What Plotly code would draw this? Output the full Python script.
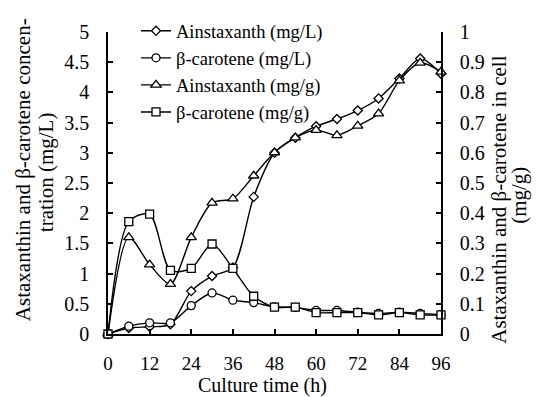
import plotly.graph_objects as go

time_h = [0, 6, 12, 18, 24, 30, 36, 42, 48, 54, 60, 66, 72, 78, 84, 90, 96]
x_ticks = [0, 12, 24, 36, 48, 60, 72, 84, 96]

ast_mgL = [0, 0.10, 0.12, 0.16, 0.71, 0.96, 1.10, 2.27, 3.00, 3.25, 3.44, 3.56, 3.70, 3.90, 4.23, 4.56, 4.31]
bcar_mgL = [0, 0.13, 0.185, 0.185, 0.47, 0.68, 0.56, 0.52, 0.45, 0.44, 0.39, 0.39, 0.36, 0.34, 0.36, 0.34, 0.32]
ast_mgg = [0, 0.32, 0.23, 0.165, 0.32, 0.434, 0.448, 0.524, 0.601, 0.65, 0.675, 0.658, 0.689, 0.73, 0.839, 0.898, 0.868]
bcar_mgg = [0, 0.372, 0.397, 0.211, 0.217, 0.298, 0.217, 0.125, 0.089, 0.089, 0.071, 0.071, 0.071, 0.063, 0.071, 0.063, 0.063]

names = ["Ainstaxanth (mg/L)", "β-carotene (mg/L)", "Ainstaxanth (mg/g)", "β-carotene (mg/g)"]
series = [ast_mgL, bcar_mgL, ast_mgg, bcar_mgg]
symbols = ["diamond", "circle", "triangle-up", "square"]
sizes = [7, 8, 9, 8]
yaxes = ["y", "y", "y2", "y2"]

FONT = "Liberation Serif"
W, H = 547, 397
L, R, T, B = 108, 106, 28, 63
PW, PH = W - L - R, H - T - B


def px_x(px):
    return (px - L) / PW


def px_y(py):
    return (H - B - py) / PH


fig = go.Figure()
for i in range(4):
    fig.add_trace(go.Scatter(
        x=time_h, y=series[i], name=names[i], yaxis=yaxes[i],
        mode="lines+markers", cliponaxis=False,
        line=dict(color="black", width=1.4, shape="spline", smoothing=0.8),
        marker=dict(symbol=symbols[i], size=sizes[i], color="white",
                    line=dict(color="black", width=1.3)),
    ))

axis_common = dict(showgrid=False, zeroline=False, showline=True, linecolor="black",
                   linewidth=1.5, ticks="inside", ticklen=5, tickcolor="black",
                   tickwidth=1.5)
tick_font = dict(family=FONT, size=20, color="black")

fig.update_layout(
    width=W, height=H,
    margin=dict(l=L, r=R, t=T, b=B),
    paper_bgcolor="white", plot_bgcolor="white",
    font=dict(family=FONT, size=19, color="black"),
    xaxis=dict(range=[0, 96], tickvals=x_ticks, ticklabelstandoff=11,
               tickfont=dict(family=FONT, size=19, color="black"), **axis_common),
    yaxis=dict(range=[0, 5], dtick=0.5, ticklabelstandoff=13, tickfont=tick_font, **axis_common),
    yaxis2=dict(range=[0, 1], dtick=0.1, overlaying="y", side="right",
                ticklabelstandoff=13, tickfont=tick_font, **axis_common),
    legend=dict(x=px_x(136), y=px_y(8), xanchor="left", yanchor="top",
                bgcolor="rgba(0,0,0,0)", tracegroupgap=0,
                font=dict(family=FONT, size=18.5)),
    showlegend=True,
)

title_font = dict(family=FONT, size=21, color="black")
fig.add_annotation(text="Culture time (h)", xref="paper", yref="paper",
                   x=px_x(262), y=px_y(386), showarrow=False,
                   font=dict(family=FONT, size=20, color="black"),
                   xanchor="center", yanchor="middle")
fig.add_annotation(text="Astaxanthin and β-carotene concen-", xref="paper", yref="paper",
                   x=px_x(23), y=px_y(168), textangle=-90, showarrow=False, font=title_font,
                   xanchor="center", yanchor="middle")
fig.add_annotation(text="tration (mg/L)", xref="paper", yref="paper",
                   x=px_x(46), y=px_y(170), textangle=-90, showarrow=False, font=title_font,
                   xanchor="center", yanchor="middle")
fig.add_annotation(text="Astaxanthin and β-carotene in cell", xref="paper", yref="paper",
                   x=px_x(499), y=px_y(198), textangle=-90, showarrow=False, font=title_font,
                   xanchor="center", yanchor="middle")
fig.add_annotation(text="(mg/g)", xref="paper", yref="paper",
                   x=px_x(519), y=px_y(194), textangle=-90, showarrow=False, font=title_font,
                   xanchor="center", yanchor="middle")

fig.write_html("out.html")
